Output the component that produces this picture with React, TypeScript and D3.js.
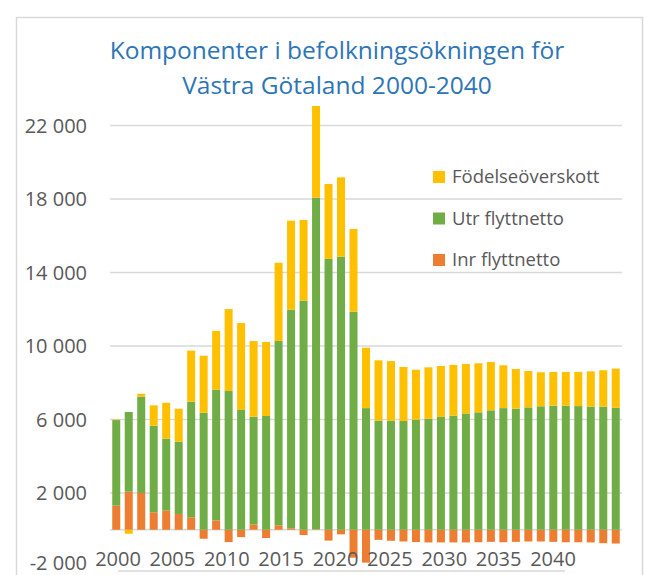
import React, { useEffect, useRef } from "react";
import * as d3 from "d3";

const years = d3.range(2000, 2041);

// Inrikes flyttnetto (orange)
const inrFlyttnetto = [
  1310, 2070, 2000, 950, 1040, 860, 680, -490, 510, -670,
  -400, 280, -450, 240, 80, -290, 20, -590, -250, -1520,
  -1790, -550, -600, -640, -670, -690, -690, -690, -690, -680,
  -660, -680, -660, -640, -640, -660, -680, -680, -690, -730,
  -750,
];

// Utrikes flyttnetto (green)
const utrFlyttnetto = [
  4660, 4340, 5240, 4710, 3920, 3930, 6290, 6370, 7110, 7550,
  6520, 5870, 6190, 10030, 11900, 12470, 18050, 14740, 14860, 11870,
  6620, 5940, 5940, 5920, 5990, 6040, 6140, 6210, 6330, 6390,
  6500, 6620, 6590, 6660, 6720, 6750, 6750, 6730, 6700, 6700,
  6640,
];

// Födelseöverskott (yellow)
const fodelseoverskott = [
  30, -220, 160, 1110, 1950, 1800, 2780, 3100, 3200, 4460,
  4730, 4120, 4030, 4260, 4840, 4390, 4990, 4080, 4320, 4500,
  3290, 3280, 3240, 2940, 2720, 2800, 2770, 2760, 2690, 2670,
  2630, 2330, 2160, 1980, 1850, 1840, 1840, 1860, 1920, 1980,
  2130,
];

const seriesKeys = ["inr", "utr", "fod"];
const seriesNames = ["Inr flyttnetto", "Utr flyttnetto", "Födelseöverskott"];
const seriesColors = ["#ED7D31", "#70AD47", "#FFC000"];

const yTicks = [-2000, 2000, 6000, 10000, 14000, 18000, 22000];
const xLabels = [2000, 2005, 2010, 2015, 2020, 2025, 2030, 2035, 2040];

const titleLines = ["Komponenter i befolkningsökningen för", "Västra Götaland 2000-2040"];

const FONT = "'Open Sans', 'Liberation Sans', sans-serif";

function Chart() {
  const ref = useRef<SVGSVGElement>(null);

  useEffect(() => {
    const svg = d3.select(ref.current);
    svg.selectAll("*").remove();

    const width = 658;
    const height = 575;

    svg.append("rect").attr("width", width).attr("height", height).attr("fill", "#fff");

    // chart frame
    svg
      .append("rect")
      .attr("x", 16.5)
      .attr("y", 17.5)
      .attr("width", 626)
      .attr("height", 600)
      .attr("fill", "none")
      .attr("stroke", "#d9d9d9")
      .attr("stroke-width", 1.5);

    const rows = years.map((yr, i) => ({
      year: yr,
      inr: inrFlyttnetto[i],
      utr: utrFlyttnetto[i],
      fod: fodelseoverskott[i],
    }));

    const x = d3
      .scaleBand<number>()
      .domain(years)
      .range([110, 622])
      .paddingInner(0.36)
      .paddingOuter(0.18);

    const y = d3.scaleLinear().domain([-2000, 22000]).range([566.5, 125.5]);

    // label axis is squeezed relative to the bars, as in the original
    const xLab = d3.scaleLinear().domain([2000, 2040]).range([118, 553]);

    // gridlines
    svg
      .append("g")
      .selectAll("line")
      .data(yTicks.filter((t) => t > 0).concat([0]))
      .enter()
      .append("line")
      .attr("x1", 110)
      .attr("x2", 622)
      .attr("y1", (d) => y(d))
      .attr("y2", (d) => y(d))
      .attr("stroke", "#d9d9d9")
      .attr("stroke-width", 1.5);

    // y tick labels
    const fmt = (v: number) => d3.format(",")(v).replace(/,/g, " ").replace("−", "-");
    svg
      .append("g")
      .selectAll("text")
      .data(yTicks)
      .enter()
      .append("text")
      .attr("x", 87)
      .attr("y", (d) => Math.min(y(d), 563))
      .attr("dy", "0.35em")
      .attr("text-anchor", "end")
      .style("font-family", FONT)
      .style("font-size", "20px")
      .attr("fill", "#595959")
      .text((d) => fmt(d));

    const stack = d3
      .stack<any>()
      .keys(seriesKeys)
      .offset(d3.stackOffsetDiverging);
    const stacked = stack(rows);

    svg
      .append("g")
      .selectAll("g")
      .data(stacked)
      .enter()
      .append("g")
      .attr("fill", (d, i) => seriesColors[i])
      .selectAll("rect")
      .data((d) => d)
      .enter()
      .append("rect")
      .attr("x", (d: any) => x(d.data.year) as number)
      .attr("width", x.bandwidth())
      .attr("y", (d) => y(Math.max(d[0], d[1])))
      .attr("height", (d) => Math.abs(y(d[0]) - y(d[1])));

    // x labels
    svg
      .append("g")
      .selectAll("text")
      .data(xLabels)
      .enter()
      .append("text")
      .attr("x", (d) => xLab(d))
      .attr("y", 559)
      .attr("dy", "0.35em")
      .attr("text-anchor", "middle")
      .style("font-family", FONT)
      .style("font-size", "20px")
      .attr("fill", "#595959")
      .text((d) => d);

    svg
      .append("line")
      .attr("x1", 118)
      .attr("x2", 565)
      .attr("y1", 571)
      .attr("y2", 571)
      .attr("stroke", "#d9d9d9")
      .attr("stroke-width", 1.5);

    // title
    svg
      .append("g")
      .selectAll("text")
      .data(titleLines)
      .enter()
      .append("text")
      .attr("x", 337)
      .attr("y", (d, i) => 50 + i * 35)
      .attr("dy", "0.35em")
      .attr("text-anchor", "middle")
      .style("font-family", FONT)
      .style("font-size", "24.5px")
      .attr("fill", "#2E75B6")
      .text((d) => d);

    // legend (top-down: reverse of series order)
    const legend = svg
      .append("g")
      .selectAll("g")
      .data([2, 1, 0])
      .enter()
      .append("g")
      .attr("transform", (d, i) => `translate(433, ${177 + i * 41.5})`);

    legend
      .append("rect")
      .attr("x", 0)
      .attr("y", -6)
      .attr("width", 12)
      .attr("height", 12)
      .attr("fill", (d) => seriesColors[d]);

    legend
      .append("text")
      .attr("x", 19)
      .attr("y", 0)
      .attr("dy", "0.35em")
      .style("font-family", FONT)
      .style("font-size", "18.5px")
      .attr("fill", "#595959")
      .text((d) => seriesNames[d]);
  }, []);

  return (
    <svg
      ref={ref}
      width={658}
      height={575}
      style={{ position: "absolute", left: 0, top: 0, display: "block" }}
    />
  );
}

export default function App() {
  return <Chart />;
}
